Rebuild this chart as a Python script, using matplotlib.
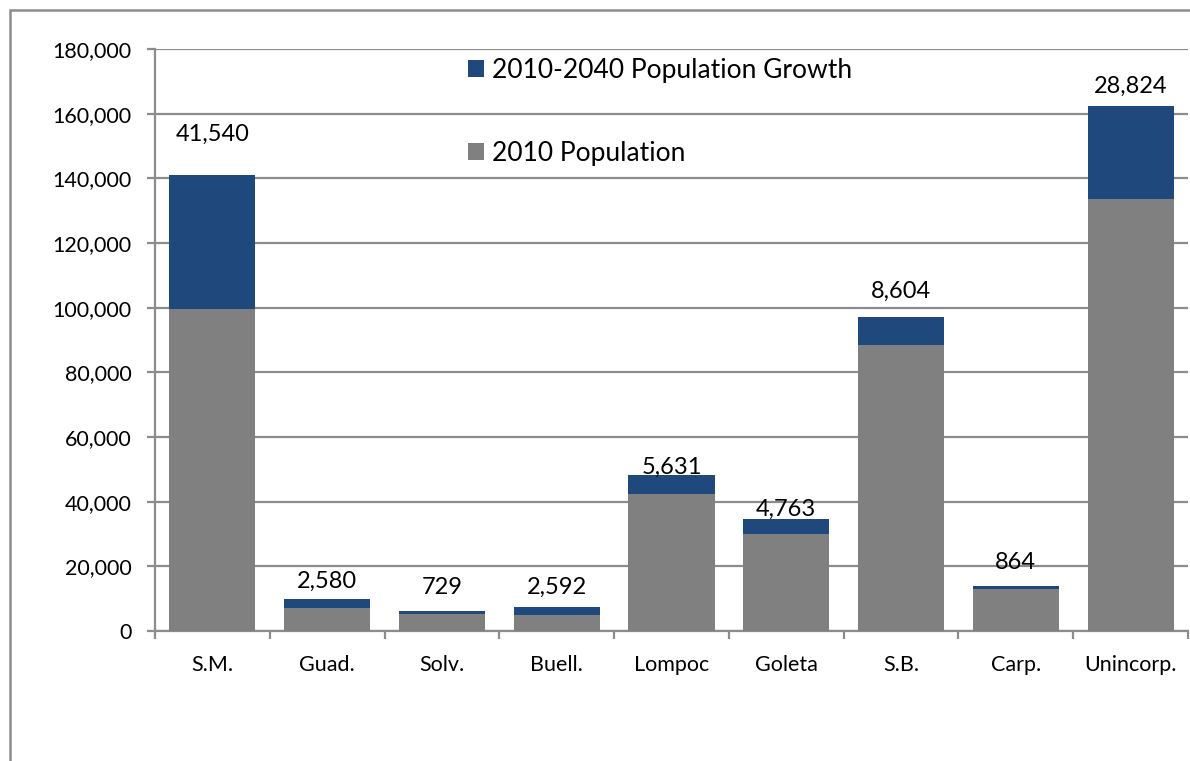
import matplotlib
matplotlib.use("Agg")
import matplotlib.pyplot as plt
from matplotlib.patches import Rectangle
from matplotlib.ticker import FuncFormatter, FixedLocator
import numpy as np

categories = ["S.M.", "Guad.", "Solv.", "Buell.", "Lompoc", "Goleta", "S.B.", "Carp.", "Unincorp."]
pop_2010 = [99600, 7200, 5350, 4850, 42500, 30000, 88400, 13000, 133500]
growth = [41540, 2580, 729, 2592, 5631, 4763, 8604, 864, 28824]
# label offsets above bar top (points), layout only
label_offset_pt = [29, 13, 17, 14, 6, 7, 19, 17, 14]

plt.rcParams['font.family'] = ['Lato', 'DejaVu Sans']

BLUE = "#1F497D"
GRAY = "#808080"
LINE = "#8C8C8C"

fig = plt.figure(figsize=(11.9, 7.61), dpi=100)
ax = fig.add_axes([155/1190, 130/761, 1033/1190, 582/761])

x = np.arange(len(categories))
w = 0.75
b1 = ax.bar(x, pop_2010, w, color=GRAY, label="2010 Population", zorder=3)
b2 = ax.bar(x, growth, w, bottom=pop_2010, color=BLUE, label="2010-2040 Population Growth", zorder=3)

for xi, base, g, off in zip(x, pop_2010, growth, label_offset_pt):
    ax.annotate(f"{g:,}", (xi, base + g), xytext=(0, off), textcoords="offset points",
                ha="center", va="center", fontsize=17, color="black", zorder=4)

ax.set_xlim(-0.5, len(categories) - 0.5)
ax.set_ylim(0, 180000)
ax.set_yticks(np.arange(0, 180001, 20000))
ax.yaxis.set_major_formatter(FuncFormatter(lambda v, p: f"{int(v):,}"))
ax.yaxis.grid(True, color=LINE, linewidth=1.6, zorder=0)
ax.set_axisbelow(True)

ax.set_xticks(x)
ax.set_xticklabels(categories, fontsize=15.5)
ax.xaxis.set_minor_locator(FixedLocator(np.arange(-0.5, len(categories), 1.0)))
ax.tick_params(axis="x", which="major", length=0, pad=17)
ax.tick_params(axis="x", which="minor", length=6, width=1.6, color=LINE, direction="out")
ax.tick_params(axis="y", length=6, width=1.6, color=LINE, direction="out", pad=11, labelsize=15.5)

for s in ["top", "right"]:
    ax.spines[s].set_visible(False)
for s in ["left", "bottom"]:
    ax.spines[s].set_color(LINE)
    ax.spines[s].set_linewidth(1.6)

handles = [b2, b1]
leg = ax.legend(handles, [h.get_label() for h in handles], loc="upper left",
                bbox_to_anchor=((468 - 155) / 1033, 1 - 9/582), frameon=False, fontsize=19,
                handlelength=0.6, handleheight=0.6, handletextpad=0.3,
                labelspacing=2.18, borderpad=0, borderaxespad=0)

# outer chart frame
fig.patches.append(Rectangle((10/1190, -0.05), 1.2, (761 - 10)/761 + 0.05,
                             transform=fig.transFigure, fill=False,
                             edgecolor=LINE, linewidth=1.8, zorder=0))

fig.savefig("out.png", dpi=100)
